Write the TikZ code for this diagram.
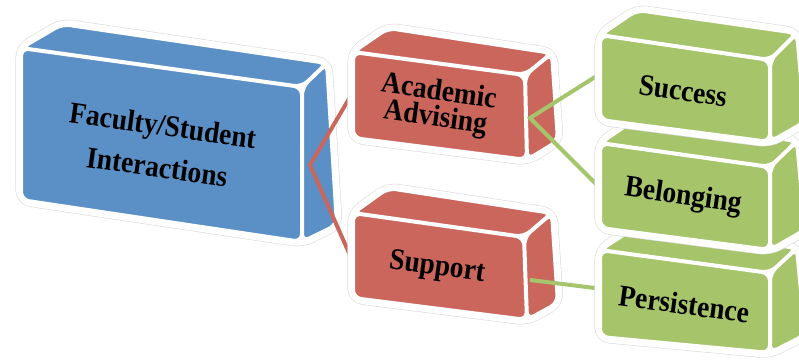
\documentclass[tikz,border=0pt]{standalone}
\usepackage{fontspec}
\setmainfont{Liberation Serif}
\usetikzlibrary{positioning}
\definecolor{facblue}{RGB}{91,144,199}
\definecolor{advred}{RGB}{203,102,93}
\definecolor{outgreen}{RGB}{166,196,106}

\begin{document}
\begin{tikzpicture}[x=1pt,y=-1pt,
  halo/.style={draw=black!14, line width=0.6pt, double=white, double distance=10pt, rounded corners=10pt},
  face/.style={draw=white, line width=4pt, rounded corners=8pt, line join=round},
  lbl/.style={font=\fontsize{27.5}{24}\selectfont\bfseries, align=center, rotate=-8, yscale=1.1, inner sep=0pt},
  link/.style={line width=4pt}]
\useasboundingbox (0,0) rectangle (799,362);
% Faculty/Student block
\draw[halo] (21,48) -- (62,24) -- (327,63) -- (337,225) -- (302,242) -- (21,200) -- cycle;
\filldraw[face, fill=facblue] (21,48) -- (62,24) -- (327,63) -- (302,87) -- cycle (302,87) -- (327,63) -- (337,225) -- (302,242) -- cycle (21,48) -- (302,87) -- (302,242) -- (21,200) -- cycle;
\node[lbl] (fac) at (160,146) {Faculty/Student\\[12pt]Interactions};
\coordinate (fac-out) at (310,165);
\coordinate (aca-in) at (353,92);
\coordinate (sup-in) at (353,262);
\draw[link, advred] (aca-in) -- (fac-out) -- (sup-in);
% red blocks
\draw[halo] (353,52) -- (388,28) -- (552,53) -- (558,141) -- (527,160) -- (353,138) -- cycle;
\filldraw[face, fill=advred] (353,52) -- (388,28) -- (552,53) -- (525,75) -- cycle (525,75) -- (552,53) -- (558,141) -- (527,160) -- cycle (353,52) -- (525,75) -- (527,160) -- (353,138) -- cycle;
\node[lbl] (aca) at (437,106) {Academic\\Advising};
\draw[halo] (353,213) -- (388,188) -- (552,213) -- (558,303) -- (527,320) -- (353,298) -- cycle;
\filldraw[face, fill=advred] (353,213) -- (388,188) -- (552,213) -- (524,237) -- cycle (524,237) -- (552,213) -- (558,303) -- (527,320) -- cycle (353,213) -- (524,237) -- (527,320) -- (353,298) -- cycle;
\node[lbl] (sup) at (437,268) {Support};
\coordinate (aca-out) at (530,118);
\coordinate (sup-out) at (530,280);
\coordinate (suc-in) at (603,72);
\coordinate (bel-in) at (603,191);
\coordinate (per-in) at (603,289);
\draw[link, outgreen] (suc-in) -- (aca-out) -- (bel-in);
\draw[link, outgreen] (sup-out) -- (per-in);
% green blocks, bottom one first
\draw[halo] (600,250) -- (637,226) -- (797,248) -- (805,335) -- (770,353) -- (600,337) -- cycle;
\filldraw[face, fill=outgreen] (600,250) -- (637,226) -- (797,248) -- (770,273) -- cycle (770,273) -- (797,248) -- (805,335) -- (770,353) -- cycle (600,250) -- (770,273) -- (770,353) -- (600,337) -- cycle;
\node[lbl] (per) at (684,304) {Persistence};
\draw[halo] (600,143) -- (637,118) -- (797,141) -- (805,230) -- (770,250) -- (600,228) -- cycle;
\filldraw[face, fill=outgreen] (600,143) -- (637,118) -- (797,141) -- (770,167) -- cycle (770,167) -- (797,141) -- (805,230) -- (770,250) -- cycle (600,143) -- (770,167) -- (770,250) -- (600,228) -- cycle;
\node[lbl] (bel) at (683,197) {Belonging};
\draw[halo] (600,35) -- (637,10) -- (797,33) -- (805,122) -- (770,142) -- (600,120) -- cycle;
\filldraw[face, fill=outgreen] (600,35) -- (637,10) -- (797,33) -- (770,60) -- cycle (770,60) -- (797,33) -- (805,122) -- (770,142) -- cycle (600,35) -- (770,60) -- (770,142) -- (600,120) -- cycle;
\node[lbl] (suc) at (683,91) {Success};
\end{tikzpicture}
\end{document}
